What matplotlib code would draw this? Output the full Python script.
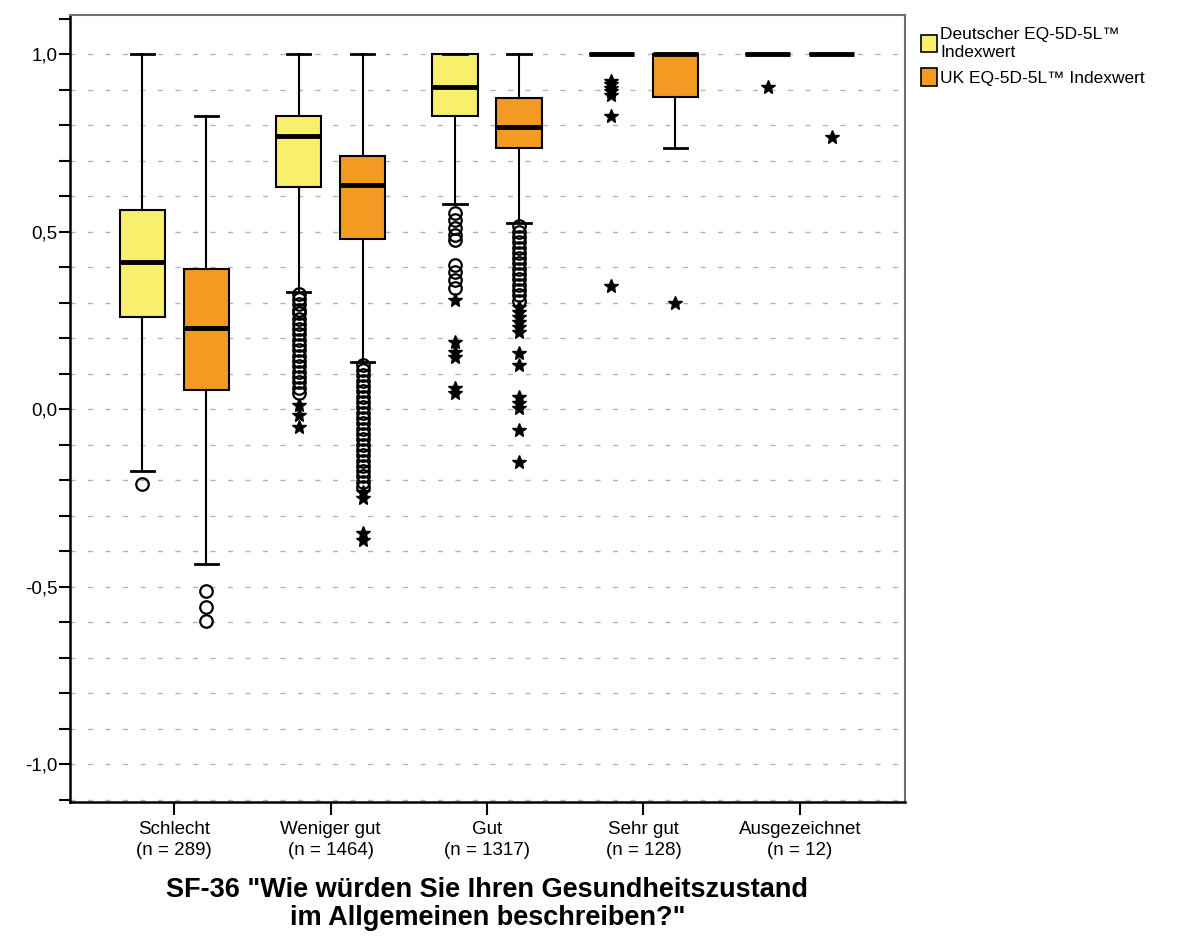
import matplotlib
matplotlib.use('Agg')
from matplotlib import pyplot as plt
from matplotlib.patches import Patch
from matplotlib.ticker import MultipleLocator, FuncFormatter

plt.rcParams['font.family'] = ['Liberation Sans', 'DejaVu Sans']

# Kategorien SF-36 Frage 1
kategorien = ['Schlecht', 'Weniger gut', 'Gut', 'Sehr gut', 'Ausgezeichnet']
n_werte = [289, 1464, 1317, 128, 12]

# Deutscher EQ-5D-5L Indexwert: Whisker unten, Q1, Median, Q3, Whisker oben
de_whislo = [-0.175, 0.33, 0.577, 1.0, 1.0]
de_q1 = [0.26, 0.625, 0.825, 1.0, 1.0]
de_med = [0.414, 0.769, 0.907, 1.0, 1.0]
de_q3 = [0.562, 0.825, 1.0, 1.0, 1.0]
de_whishi = [1.0, 1.0, 1.0, 1.0, 1.0]

# UK EQ-5D-5L Indexwert
uk_whislo = [-0.437, 0.132, 0.524, 0.735, 1.0]
uk_q1 = [0.054, 0.479, 0.735, 0.879, 1.0]
uk_med = [0.228, 0.631, 0.794, 1.0, 1.0]
uk_q3 = [0.394, 0.713, 0.876, 1.0, 1.0]
uk_whishi = [0.825, 1.0, 1.0, 1.0, 1.0]

# Ausreisser (Kreise) und Extremwerte (Sterne)
de_kreise = [
    [-0.21],
    [0.325, 0.31, 0.295, 0.28, 0.27, 0.255, 0.24, 0.225, 0.21, 0.195, 0.18,
     0.165, 0.15, 0.135, 0.12, 0.105, 0.09, 0.075, 0.06, 0.045],
    [0.552, 0.532, 0.51, 0.49, 0.476, 0.406, 0.386, 0.363, 0.341],
    [],
    [],
]
de_sterne = [
    [],
    [0.011, -0.017, -0.05],
    [0.307, 0.189, 0.161, 0.146, 0.059, 0.045],
    [0.925, 0.915, 0.905, 0.895, 0.885, 0.825, 0.346],
    [0.907],
]
uk_kreise = [
    [-0.513, -0.558, -0.597],
    [0.125, 0.11, 0.095, 0.08, 0.065, 0.05, 0.035, 0.02, 0.005, -0.01, -0.025,
     -0.04, -0.055, -0.07, -0.085, -0.1, -0.115, -0.13, -0.145, -0.16, -0.175,
     -0.19, -0.205, -0.22],
    [0.515, 0.5, 0.485, 0.47, 0.455, 0.44, 0.425, 0.41, 0.395, 0.38, 0.365,
     0.35, 0.335, 0.32, 0.305],
    [],
    [],
]
uk_sterne = [
    [],
    [-0.235, -0.25, -0.349, -0.369],
    [0.287, 0.272, 0.258, 0.244, 0.23, 0.217, 0.157, 0.124, 0.034, 0.017,
     0.003, -0.059, -0.149],
    [0.30],
    [0.766],
]

gelb = '#f8ef6c'
orange = '#f29a22'


def stats(whislo, q1, med, q3, whishi):
    return [dict(whislo=a, q1=b, med=c, q3=d, whishi=e, fliers=[])
            for a, b, c, d, e in zip(whislo, q1, med, q3, whishi)]


fig = plt.figure(figsize=(11.92, 9.47), dpi=100)
ax = fig.add_axes([70 / 1192, 145 / 947, 835 / 1192, 787 / 947])

pos = list(range(1, len(kategorien) + 1))
off = 0.205
breite = 0.29

for werte, farbe, d in [(stats(de_whislo, de_q1, de_med, de_q3, de_whishi), gelb, -off),
                        (stats(uk_whislo, uk_q1, uk_med, uk_q3, uk_whishi), orange, off)]:
    ax.bxp(werte, positions=[p + d for p in pos], widths=breite,
           capwidths=0.15, patch_artist=True, showfliers=False,
           boxprops=dict(facecolor=farbe, edgecolor='black', linewidth=1.5),
           medianprops=dict(color='black', linewidth=3.5, solid_capstyle='butt'),
           whiskerprops=dict(color='black', linewidth=1.5),
           capprops=dict(color='black', linewidth=2),
           manage_ticks=False, zorder=3)

for kreise, sterne, d in [(de_kreise, de_sterne, -off), (uk_kreise, uk_sterne, off)]:
    for p, k, s in zip(pos, kreise, sterne):
        if k:
            ax.plot([p + d] * len(k), k, 'o', mfc='none', mec='black',
                    mew=1.6, ms=9, zorder=4)
        if s:
            ax.plot([p + d] * len(s), s, '*', color='black', ms=10, zorder=4)

# gestrichelte Hilfslinien alle 0,1
for g in range(-11, 11):
    ax.axhline(g / 10, color='#b4b4b4', lw=1.0, ls=(0, (3.6, 9)), zorder=1)

ax.set_xlim(0.333, 5.673)
ax.set_ylim(-1.107, 1.11)
ax.yaxis.set_major_locator(MultipleLocator(0.5))
ax.yaxis.set_minor_locator(MultipleLocator(0.1))
ax.yaxis.set_major_formatter(FuncFormatter(lambda v, _: f'{v:.1f}'.replace('.', ',')))
ax.tick_params(axis='y', which='both', length=8, width=1.5, labelsize=13.5, pad=1)
ax.set_xticks(pos)
ax.set_xticklabels([f'{k}\n(n = {n})' for k, n in zip(kategorien, n_werte)],
                   fontsize=13.5, linespacing=1.3)
ax.tick_params(axis='x', length=9, width=1.5, pad=5)

for s in ['left', 'bottom']:
    ax.spines[s].set_linewidth(1.8)
for s in ['top', 'right']:
    ax.spines[s].set_color('#707070')
    ax.spines[s].set_linewidth(1.5)

ax.set_xlabel('SF-36 "Wie würden Sie Ihren Gesundheitszustand\nim Allgemeinen beschreiben?"',
              fontsize=19.5, fontweight='bold', linespacing=1.08, labelpad=13)

fig.legend(handles=[Patch(facecolor=gelb, edgecolor='black', lw=1.2,
                          label='Deutscher EQ-5D-5L™\nIndexwert'),
                    Patch(facecolor=orange, edgecolor='black', lw=1.2,
                          label='UK EQ-5D-5L™ Indexwert')],
           loc='upper left', bbox_to_anchor=(914 / 1192, 1 - 20 / 947),
           frameon=False, handlelength=0.9, handleheight=1.2,
           handletextpad=0.2, labelspacing=0.45, borderaxespad=0,
           prop=dict(size=12.5))
for t in fig.legends[0].get_texts():
    t.set_linespacing(1.25)

fig.savefig('out.png', dpi=100)
